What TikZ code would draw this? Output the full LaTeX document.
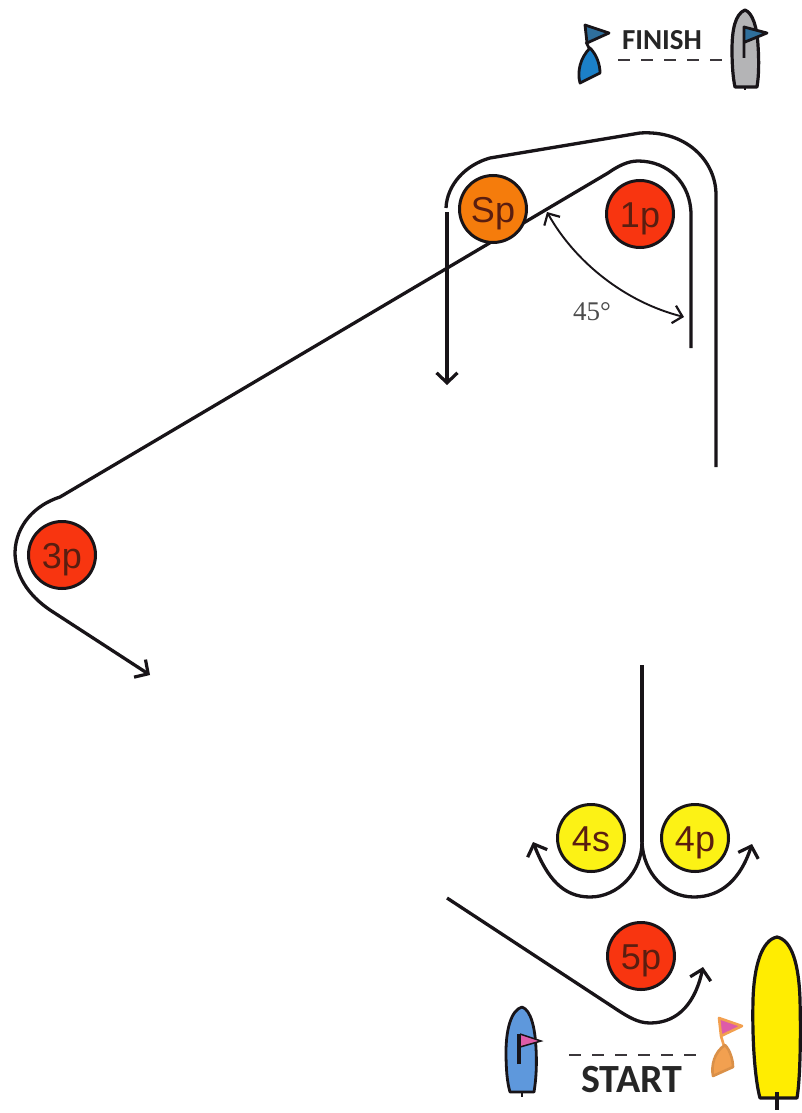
\documentclass[tikz,border=0pt]{standalone}
\usepackage{fontspec}
\setmainfont{Liberation Serif}
\setsansfont{Liberation Sans}
\newfontfamily\labelx{Carlito}
\usetikzlibrary{arrows.meta}
\definecolor{markred}{HTML}{F83510}
\definecolor{markorange}{HTML}{F57C0C}
\definecolor{markyellow}{HTML}{FCF215}
\definecolor{inkdark}{HTML}{181418}
\definecolor{marktext}{HTML}{5A1E10}
\definecolor{buoyblue}{HTML}{1C80C8}
\definecolor{flagblue}{HTML}{2F6F9C}
\definecolor{hullblue}{HTML}{5E98DC}
\definecolor{flagpink}{HTML}{DE5CA8}
\definecolor{buoyorange}{HTML}{F2A050}
\definecolor{hullgrey}{HTML}{B4B4B6}
\newcommand{\marklabel}[1]{\raisebox{-13pt}[0pt][0pt]{#1}}
\tikzset{
  x=1pt,y=-1pt,
  mark disc/.style={circle,draw=inkdark,line width=3pt,minimum size=67pt,inner sep=0pt,font=\sffamily\fontsize{36}{36}\selectfont,text=marktext},
  course/.style={draw=inkdark,line width=3.3pt,line join=round},
  coursearrow/.style={course,-{Straight Barb[length=10pt,width=21pt,line width=3.2pt]}},
  hull/.style={draw=inkdark,line width=3.2pt,line join=round},
  thin hull/.style={draw=inkdark,line width=2.8pt,line join=round},
  finish line/.style={draw=inkdark!85,line width=2.8pt,dash pattern=on 12pt off 11pt},
  line label/.style={inner sep=0pt,text=black!85},
}
\begin{document}
\begin{tikzpicture}
\useasboundingbox (0,0) rectangle (801,1113);
% free ends
\coordinate (a0) at (716,467);
\coordinate (b0) at (691,348);
\coordinate (b1) at (150,675);
\coordinate (c0) at (447,212);
\coordinate (c1) at (447,385);
\coordinate (d0) at (642,665);
\coordinate (d1) at (642,842);
\coordinate (d2) at (533,842);
\coordinate (d3) at (752,844);
\coordinate (e0) at (447,898);
\coordinate (e1) at (703,967);
\coordinate (g0) at (547,212);
\coordinate (g1) at (684,317);
% course
\draw[course] (a0) -- (716,195) .. controls (716,160) and (685,130) .. (640,133)
  -- (490,158) .. controls (465,165) and (447,185) .. (446,208);
\draw[coursearrow] (c0) -- (c1);
\draw[coursearrow] (b0) -- (691,215) .. controls (691,183) and (668,161) .. (638,161)
  .. controls (628,161) and (618,166) .. (608,173) -- (60,497)
  .. controls (35,505) and (16,525) .. (15,552) .. controls (15,575) and (28,595) .. (50,610) -- (b1);
\draw[course] (d0) -- (d1);
\draw[coursearrow] (d1) .. controls (642,872) and (618,897) .. (590,897) .. controls (563,897) and (547,878) .. (d2);
\draw[coursearrow] (d1) .. controls (643,872) and (665,897) .. (694,897) .. controls (722,897) and (741,878) .. (d3);
\draw[coursearrow] (e0) -- (613,1007) .. controls (628,1017) and (638,1023) .. (650,1023) .. controls (680,1023) and (696,1000) .. (e1);
% marks
\node[mark disc,fill=markorange] (sp) at (493,209) {\marklabel{Sp}};
\node[mark disc,fill=markred] (p1) at (640,214) {\marklabel{1p}};
\node[mark disc,fill=markred] (p3) at (62,555) {\marklabel{3p}};
\node[mark disc,fill=markyellow] (s4) at (591,838) {\marklabel{4s}};
\node[mark disc,fill=markyellow] (p4) at (695,838) {\marklabel{4p}};
\node[mark disc,fill=markred] (p5) at (641,956) {\marklabel{5p}};
% angle
\draw[draw=inkdark,line width=1.9pt,{Straight Barb[length=9pt,width=18pt,line width=2.2pt]}-{Straight Barb[length=9pt,width=18pt,line width=2.2pt]}]
  (g0) .. controls (575,262) and (625,302) .. (g1);
\node[inner sep=0pt,font=\rmfamily\fontsize{27}{27}\selectfont,text=black!70] (ang) at (592,312) {45°};
% finish
\draw[thin hull,fill=flagblue] (585,25) -- (609,33) -- (587,43) -- cycle;
\draw[thin hull] (586,42) -- (590,50);
\draw[thin hull,fill=buoyblue] (590,48) .. controls (597,55) and (600,65) .. (600,73) -- (580,83) .. controls (577,72) and (580,58) .. (590,48) -- cycle;
\node[line label,font=\labelx\bfseries\fontsize{29}{29}\selectfont] (finish) at (662,40) {FINISH};
\coordinate (f0) at (618,60);
\coordinate (f1) at (723,60);
\draw[finish line] (f0) -- (f1);
\draw[hull,fill=hullgrey] (745,10) .. controls (735,14) and (732,30) .. (732,50) .. controls (732,65) and (733,78) .. (735,87) -- (757,87) .. controls (759,75) and (759,60) .. (758,45) .. controls (757,28) and (753,13) .. (745,10) -- cycle;
\draw[thin hull] (745,87) -- (745,90);
\fill[fill=flagblue] (745,27) -- (766,33) -- (745,42) -- cycle;
\draw[thin hull] (744,58) -- (744,27) -- (767,33) -- (745,42);
% start
\draw[finish line] (569,1055) coordinate (h0) -- (697,1055) coordinate (h1);
\node[line label,font=\labelx\bfseries\fontsize{40}{40}\selectfont] (start) at (632,1080) {START};
\draw[thin hull,fill=hullblue] (522,1007) .. controls (511,1010) and (506,1030) .. (506,1052) .. controls (506,1068) and (507,1082) .. (510,1092) -- (534,1092) .. controls (536,1080) and (537,1065) .. (536,1048) .. controls (535,1028) and (531,1010) .. (522,1007) -- cycle;
\draw[thin hull] (522,1092) -- (522,1097);
\fill[fill=flagpink] (520,1034) -- (541,1041) -- (520,1047) -- cycle;
\draw[line width=4pt,draw=inkdark] (519,1064) -- (519,1034);
\draw[draw=inkdark,line width=1.5pt] (520,1034) -- (541,1041) -- (520,1047);
\draw[draw=buoyorange,line width=2.6pt,line join=round,fill=flagpink] (719,1018) -- (742,1026) -- (721,1036) -- cycle;
\draw[draw=buoyorange,line width=2.6pt] (721,1036) -- (724,1046);
\draw[draw=buoyorange!90!black,line width=2.6pt,line join=round,fill=buoyorange] (725,1045) .. controls (730,1050) and (733,1060) .. (733,1067) -- (713,1076) .. controls (711,1066) and (714,1052) .. (725,1045) -- cycle;
\draw[hull,fill=yellow!95!orange] (777,937) .. controls (762,940) and (754,965) .. (753,1000) .. controls (752,1040) and (755,1080) .. (760,1098) -- (797,1098) .. controls (800,1080) and (801,1040) .. (800,1000) .. controls (799,965) and (792,940) .. (777,937) -- cycle;
\draw[hull] (777,1092) -- (777,1110);
\end{tikzpicture}
\end{document}
